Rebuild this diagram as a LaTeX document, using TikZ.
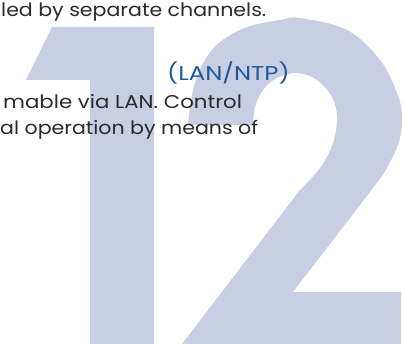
\documentclass[tikz,border=0pt]{standalone}
\usepackage{fontspec}
\setmainfont{Poppins}
\definecolor{numfill}{HTML}{C8CEE3}
\definecolor{txtgray}{HTML}{2B2A29}
\definecolor{hdblue}{HTML}{1E5B9C}
% body text is set a little wide
\newcommand{\widetext}[2][1.13]{\scalebox{#1}[1]{#2}}
\begin{document}
\begin{tikzpicture}[line cap=round,line join=round,x=1pt,y=-1pt,
	txt/.style={anchor=base west,inner sep=0pt,font=\fontsize{18.5}{22}\selectfont,text=txtgray},
	hdtxt/.style={txt,font=\fontsize{20}{22}\selectfont,text=hdblue}]
		\useasboundingbox (0,0) rectangle (403,344);
		\clip (0,0) rectangle (403,344);
		% big numeral: the one
		\fill[numfill] (52,27) -- (154,27) -- (154,344) -- (90,344) -- (90,80) -- (26,80) -- cycle;
		% big numeral: the two
		\fill[numfill] (253,125) -- (188,125) -- plot[smooth,tension=0.6] coordinates {(188,125) (190,107) (195,83) (205,60) (220,42) (247,27) (280,20) (300,18) (347,30) (380,60) (397,93) (402,117) (398,145) (383,175)} -- (293,292) -- (401,292) -- (401,344) -- (182,344) -- (300,190) -- plot[smooth,tension=0.6] coordinates {(300,190) (320,168) (333,143) (337,117) (332,97) (317,80) (297,73) (277,78) (263,90) (255,107) (253,125)} -- cycle;
		% text lines
		\node[txt] (ln1) at (1,17) {\widetext[1.11]{led by separate channels.}};
		\node[hdtxt] (hd) at (167,81) {\widetext[1.22]{(LAN/NTP)}};
		\node[txt] (ln2) at (3,109) {\widetext[1.15]{mable via LAN. Control}};
		\node[txt] (ln3) at (0,135) {\widetext[1.11]{al operation by means of}};
\end{tikzpicture}
\end{document}
